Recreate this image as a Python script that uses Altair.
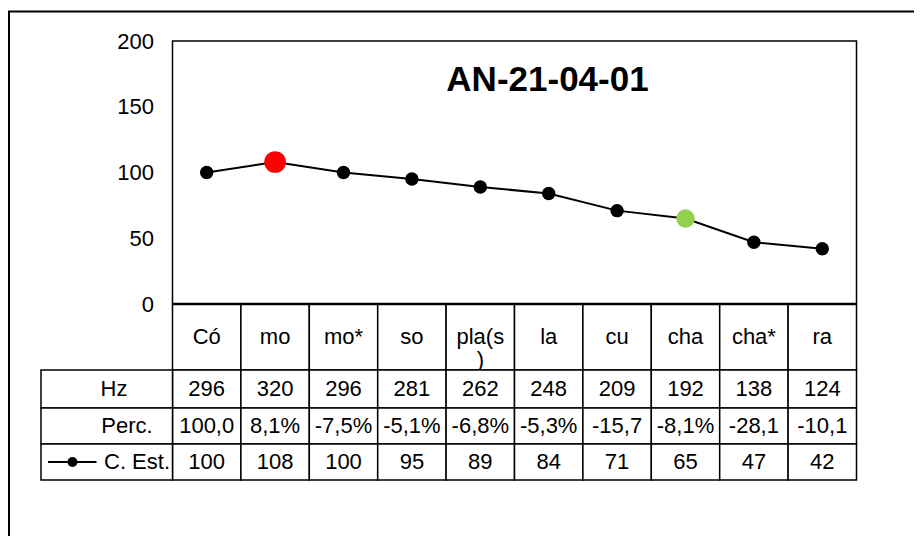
import altair as alt
import pandas as pd

# ---------------- data ----------------
categories = ["Có", "mo", "mo*", "so", "pla(s)", "la", "cu", "cha", "cha*", "ra"]
hz = [296, 320, 296, 281, 262, 248, 209, 192, 138, 124]
perc = ["100,0", "8,1%", "-7,5%", "-5,1%", "-6,8%", "-5,3%", "-15,7", "-8,1%", "-28,1", "-10,1"]
c_est = [100, 108, 100, 95, 89, 84, 71, 65, 47, 42]
y_ticks = [0, 50, 100, 150, 200]
row_labels = ["Hz", "Perc.", "C. Est."]
title_text = "AN-21-04-01"

# ---------------- style / layout ----------------
FONT = "Liberation Sans"
FS = 22
W, H = 684, 263
highlight_color = {"mo": "#FF0000", "cha": "#92D050"}
highlight_size = {"mo": 470, "cha": 340}
BASE_SIZE = 180
# table rows (top, bottom) in px relative to the plot area origin
ROWS = {"cat": (263, 329), "Hz": (329, 367), "Perc.": (367, 403), "C. Est.": (403, 439)}
LABEL_X0 = -131.5
label_pos = {"Hz": (-58.5, "center"), "Perc.": (-45.5, "center"), "C. Est.": (-68.5, "left")}
LW = 1.5

df = pd.DataFrame({
    "cat": categories,
    "label": [c.replace("(s)", "(s\n)") for c in categories],
    "hz": [str(v) for v in hz],
    "perc": perc,
    "est": c_est,
    "est_s": [str(v) for v in c_est],
})
df["mcolor"] = [highlight_color.get(c, "#000000") for c in categories]
df["msize"] = [highlight_size.get(c, BASE_SIZE) for c in categories]

one = pd.DataFrame({"k": [0]})

x_enc = alt.X("cat:N", sort=categories,
              scale=alt.Scale(type="band", paddingInner=0, paddingOuter=0),
              axis=None)

base = alt.Chart(df)

# outer chart-area frame (cropped on right / bottom)
frame = alt.Chart(one).mark_rect(fill="transparent", stroke="black", strokeWidth=2).encode(
    x=alt.value(-163.5), x2=alt.value(900), y=alt.value(-29.5), y2=alt.value(700)
)

layers = [frame]

# table cells for category columns
text_fields = {"cat": "label", "Hz": "hz", "Perc.": "perc", "C. Est.": "est_s"}
for row, (top, bot) in ROWS.items():
    cells = base.mark_rect(fill="white", stroke="black", strokeWidth=LW).encode(
        x=x_enc, y=alt.value(top), y2=alt.value(bot)
    )
    mid = (top + bot) / 2
    if row == "cat":
        txt = base.mark_text(font=FONT, fontSize=FS, color="black", baseline="middle",
                             lineBreak="\n", lineHeight=23).encode(
            x=x_enc, y=alt.value(mid), text=f"{text_fields[row]}:N"
        )
    else:
        txt = base.mark_text(font=FONT, fontSize=FS, color="black", baseline="middle").encode(
            x=x_enc, y=alt.value(mid), text=f"{text_fields[row]}:N"
        )
    layers += [cells, txt]

# left label column of table
for r in row_labels:
    top, bot = ROWS[r]
    mid = (top + bot) / 2
    xp, al = label_pos[r]
    layers.append(alt.Chart(one).mark_rect(fill="white", stroke="black", strokeWidth=LW).encode(
        x=alt.value(LABEL_X0), x2=alt.value(0), y=alt.value(top), y2=alt.value(bot)))
    layers.append(alt.Chart(one).mark_text(text=r, font=FONT, fontSize=FS, color="black",
                                           baseline="middle", align=al).encode(
        x=alt.value(xp), y=alt.value(mid)))

# legend key
kt, kb = ROWS["C. Est."]
kmid = (kt + kb) / 2
layers.append(alt.Chart(one).mark_rule(color="black", strokeWidth=2).encode(
    x=alt.value(-124.5), x2=alt.value(-76), y=alt.value(kmid)))
layers.append(alt.Chart(one).mark_point(shape="circle", filled=True, color="black",
                                        size=100, opacity=1).encode(
    x=alt.value(-100), y=alt.value(kmid)))

# series
y_enc = alt.Y("est:Q", scale=alt.Scale(domain=[0, 200]),
              axis=alt.Axis(values=y_ticks, grid=False, ticks=False, domain=False,
                            labelFontSize=FS, labelFont=FONT, labelColor="black",
                            labelPadding=19, title=None, zindex=2))

line = base.mark_line(color="black", strokeWidth=2).encode(x=x_enc, y=y_enc)
pts = base.mark_circle(opacity=1).encode(
    x=x_enc, y=y_enc,
    color=alt.Color("mcolor:N", scale=None),
    size=alt.Size("msize:Q", scale=None),
)
bottom_rule = alt.Chart(one).mark_rule(color="black", strokeWidth=2.5).encode(
    x=alt.value(0), x2=alt.value(W), y=alt.value(H))

title = alt.Chart(one).mark_text(text=title_text, font=FONT, fontSize=35, fontWeight="bold",
                                 color="black", align="center", baseline="alphabetic").encode(
    x=alt.value(375), y=alt.value(50))

layers += [line, pts, bottom_rule, title]

chart = alt.layer(*layers).properties(
    width=W, height=H,
    autosize=alt.AutoSizeParams(type="none"),
    padding={"left": 164.5, "top": 33, "right": 57, "bottom": 232},
    background="white",
).configure_view(stroke="black", strokeWidth=LW)

chart.save("out.html", embed_options={"renderer": "svg", "actions": False})
